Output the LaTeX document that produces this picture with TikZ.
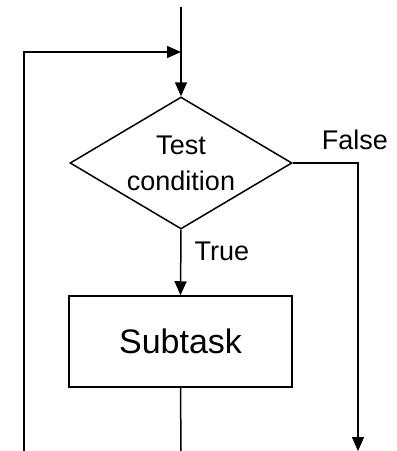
\documentclass[tikz,border=0pt]{standalone}
\usepackage{fontspec}
\setmainfont{Liberation Sans}
\usetikzlibrary{shapes.geometric,arrows.meta}

\tikzset{
  flowline/.style={line width=1.5pt, draw=black},
  flowarrow/.style={flowline, -{Triangle[length=14pt,width=12pt]}},
  decision/.style={diamond, draw, line width=1.5pt, aspect=1.68, inner sep=0pt,
    minimum width=222pt, minimum height=132pt, align=center,
    font=\fontsize{27}{36}\selectfont},
  process/.style={rectangle, draw, line width=1.5pt, inner sep=0pt,
    minimum width=223pt, minimum height=91pt, font=\fontsize{34}{40}\selectfont},
  lbl/.style={inner sep=0pt, font=\fontsize{27}{32}\selectfont}
}

\begin{document}
\begin{tikzpicture}[x=1pt,y=1pt,yscale=-1,xscale=1]
\useasboundingbox (0,0) rectangle (397,451);

% blocks
\node[decision] (test) at (181,163) {Test\\condition};
\node[process] (sub) at (180.5,341.5) {Subtask};

% free ends
\coordinate (start) at (181,7);
\coordinate (join) at (181,52);
\coordinate (loopin) at (24,451);
\coordinate (subend) at (181,451);
\coordinate (falseend) at (358,451);

% connectors
\draw[flowarrow] (start) -- (test.north);
\draw[flowarrow] (loopin) |- (join);
\draw[flowarrow] (test.south) -- (sub.north);
\draw[flowline] (sub.south) -- (subend);
\draw[flowarrow] (test.east) -| (falseend);

% labels
\node[lbl] (truelbl) at (222,251) {True};
\node[lbl] (falselbl) at (355,140) {False};

\end{tikzpicture}
\end{document}
